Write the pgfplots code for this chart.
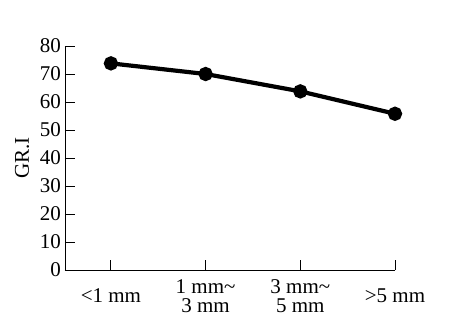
\documentclass[border=0pt]{standalone}
\usepackage{pgfplots}
\pgfplotsset{compat=1.18}
\usepackage{fontspec}
\setmainfont{Liberation Serif}
\begin{document}
\begin{tikzpicture}
\begin{axis}[
  name=ax,
  scale only axis,
  width=330bp, height=224bp,
  xmin=0.515, xmax=4, ymin=0, ymax=80,
  axis x line*=bottom, axis y line*=left,
  axis line style={line width=0.9bp},
  tick style={line width=0.9bp, black},
  tick align=inside,
  major tick length=10bp,
  xtick={1,2,3,4},
  xticklabels={{<1 mm},{1 mm\textasciitilde\\3 mm},{3 mm\textasciitilde\\5 mm},{>5 mm}},
  ytick={0,10,...,80},
  /pgf/number format/assume math mode=true,
  tick label style={font=\fontsize{21bp}{19bp}\selectfont},
  xticklabel style={align=center, anchor=center, yshift=-26bp},
  yticklabel style={inner sep=0pt, xshift=-4bp},
  ylabel={GR.I},
  ylabel style={at={(axis description cs:-0.13,0.5)}, anchor=center, font=\fontsize{21bp}{24bp}\selectfont},
]
\addplot[black, line width=4.2bp, mark=*, mark size=5bp, mark options={fill=black}] coordinates {
  (1,73.8) (2,70.0) (3,63.8) (4,55.8)
};
\end{axis}
\path (ax.south west) ++(-65bp,-61bp) rectangle ++(450bp,331bp);
\end{tikzpicture}
\end{document}
